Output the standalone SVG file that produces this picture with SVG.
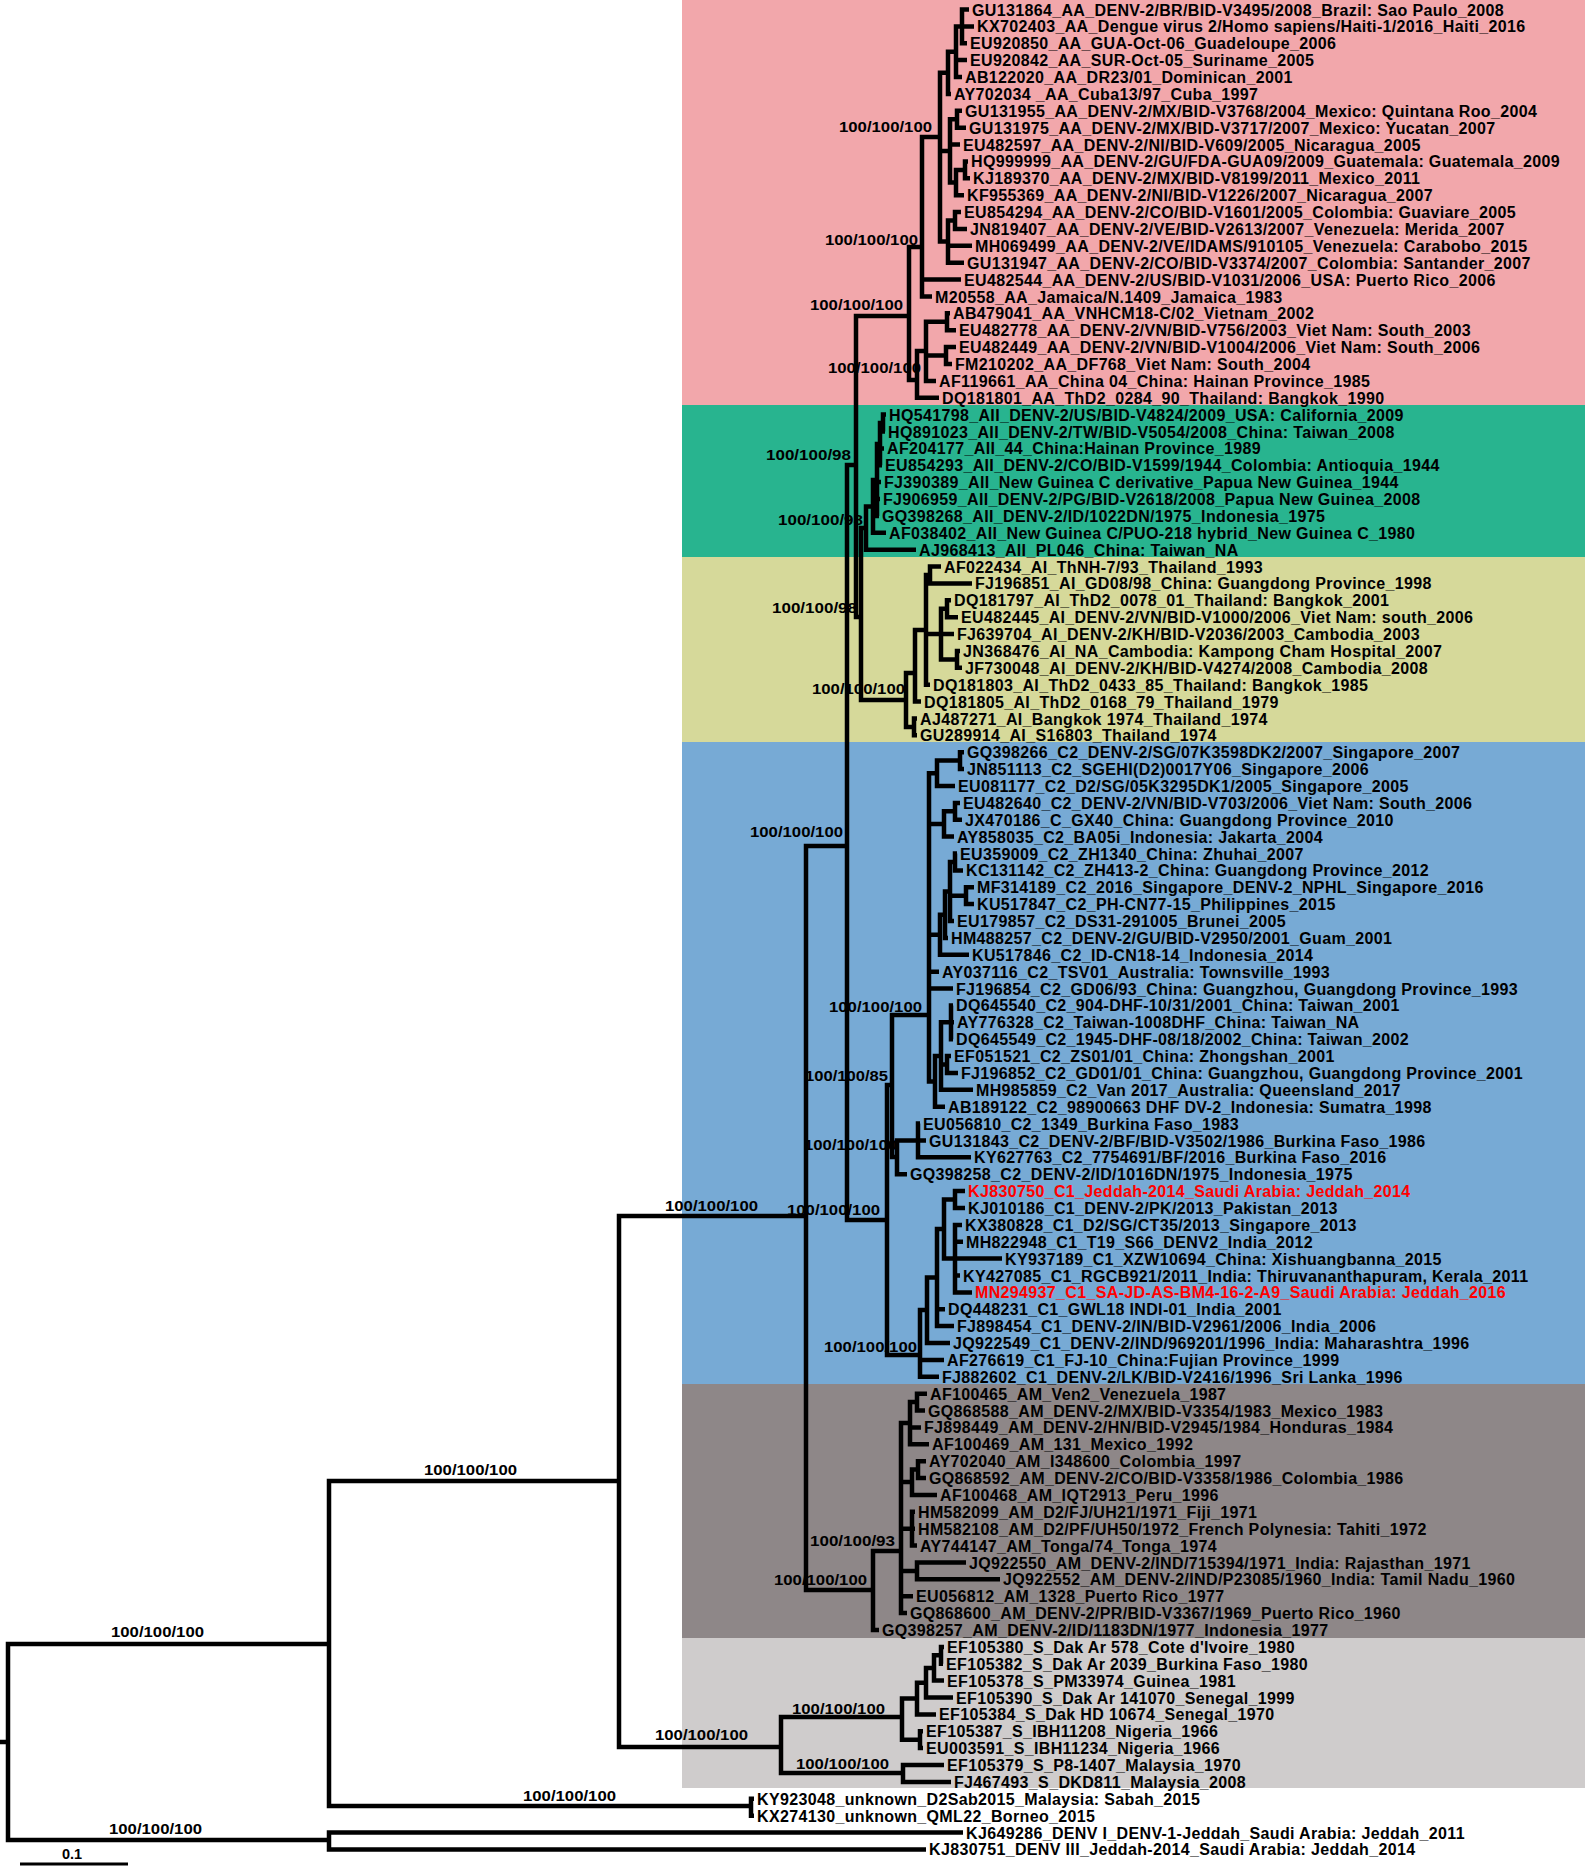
<svg xmlns="http://www.w3.org/2000/svg" width="1585" height="1867" viewBox="0 0 1585 1867">
<style>
.leaf{font-family:"Liberation Sans",Arial,sans-serif;font-weight:bold;font-size:16px;letter-spacing:0.35px;fill:#000}
.red{fill:#ff0000}
.bs{font-family:"Liberation Sans",Arial,sans-serif;font-weight:bold;font-size:14.5px;text-anchor:end;fill:#000}
.br{fill:none;stroke:#000;stroke-width:4.5;stroke-linejoin:miter;stroke-linecap:butt}
</style>
<rect width="1585" height="1867" fill="#fff"/>
<g id="bands">
<rect x="682" y="0" width="903" height="405" fill="#F2A7AB"/>
<rect x="682" y="405" width="903" height="152" fill="#28B48F"/>
<rect x="682" y="557" width="903" height="185" fill="#D6D99A"/>
<rect x="682" y="742" width="903" height="642" fill="#77AAD5"/>
<rect x="682" y="1384" width="903" height="254" fill="#8E8788"/>
<rect x="682" y="1638" width="903" height="150" fill="#CFCCCC"/>
</g>
<g id="support">
<text class="bs" x="932" y="132" textLength="93" lengthAdjust="spacingAndGlyphs">100/100/100</text>
<text class="bs" x="918" y="245" textLength="93" lengthAdjust="spacingAndGlyphs">100/100/100</text>
<text class="bs" x="903" y="310" textLength="93" lengthAdjust="spacingAndGlyphs">100/100/100</text>
<text class="bs" x="921" y="373" textLength="93" lengthAdjust="spacingAndGlyphs">100/100/100</text>
<text class="bs" x="851" y="460" textLength="85" lengthAdjust="spacingAndGlyphs">100/100/98</text>
<text class="bs" x="863" y="525" textLength="85" lengthAdjust="spacingAndGlyphs">100/100/98</text>
<text class="bs" x="857" y="613" textLength="85" lengthAdjust="spacingAndGlyphs">100/100/98</text>
<text class="bs" x="905" y="694" textLength="93" lengthAdjust="spacingAndGlyphs">100/100/100</text>
<text class="bs" x="843" y="837" textLength="93" lengthAdjust="spacingAndGlyphs">100/100/100</text>
<text class="bs" x="922" y="1012" textLength="93" lengthAdjust="spacingAndGlyphs">100/100/100</text>
<text class="bs" x="888" y="1081" textLength="83" lengthAdjust="spacingAndGlyphs">100/100/85</text>
<text class="bs" x="897" y="1150" textLength="93" lengthAdjust="spacingAndGlyphs">100/100/100</text>
<text class="bs" x="880" y="1215" textLength="93" lengthAdjust="spacingAndGlyphs">100/100/100</text>
<text class="bs" x="917" y="1352" textLength="93" lengthAdjust="spacingAndGlyphs">100/100/100</text>
<text class="bs" x="895" y="1546" textLength="85" lengthAdjust="spacingAndGlyphs">100/100/93</text>
<text class="bs" x="867" y="1585" textLength="93" lengthAdjust="spacingAndGlyphs">100/100/100</text>
<text class="bs" x="758" y="1211" textLength="93" lengthAdjust="spacingAndGlyphs">100/100/100</text>
<text class="bs" x="517" y="1475" textLength="93" lengthAdjust="spacingAndGlyphs">100/100/100</text>
<text class="bs" x="748" y="1740" textLength="93" lengthAdjust="spacingAndGlyphs">100/100/100</text>
<text class="bs" x="885" y="1714" textLength="93" lengthAdjust="spacingAndGlyphs">100/100/100</text>
<text class="bs" x="889" y="1769" textLength="93" lengthAdjust="spacingAndGlyphs">100/100/100</text>
<text class="bs" x="616" y="1801" textLength="93" lengthAdjust="spacingAndGlyphs">100/100/100</text>
<text class="bs" x="204" y="1637" textLength="93" lengthAdjust="spacingAndGlyphs">100/100/100</text>
<text class="bs" x="202" y="1834" textLength="93" lengthAdjust="spacingAndGlyphs">100/100/100</text>
</g>
<g id="connectors">
<path id="e-Na" class="br" d="M969,9.5 H962 V43.3 H967 M962,26.4 H974"/>
<path id="e-Nb" class="br" d="M962,26.4 H956 V77 H962 M956,60.1 H967"/>
<path id="e-Nc" class="br" d="M956,51.7 H948 V93.9 H951"/>
<path id="e-Nd" class="br" d="M962,110.8 H957 V127.7 H966"/>
<path id="e-Ne" class="br" d="M968,161.4 H965 V178.3 H970"/>
<path id="e-Nf" class="br" d="M965,169.9 H956 V195.2 H964"/>
<path id="e-Ng" class="br" d="M957,119.2 H950 V182.5 H956 M950,144.5 H960"/>
<path id="e-Nh" class="br" d="M961,212.1 H955 V228.9 H967"/>
<path id="e-Ni" class="br" d="M955,220.5 H948 V262.7 H964 M948,245.8 H972"/>
<path id="e-CAA" class="br" d="M948,72.8 H940 V241.6 H948 M940,150.9 H950"/>
<path id="e-Am" class="br" d="M940,137 H922 V296.5 H932 M922,279.6 H961"/>
<path id="e-Na1" class="br" d="M950,313.3 H947 V330.2 H956"/>
<path id="e-Na2" class="br" d="M956,347.1 H946 V364 H952"/>
<path id="e-Na3" class="br" d="M947,321.8 H926 V380.9 H936 M926,355.5 H946"/>
<path id="e-As" class="br" d="M926,351 H917 V397.7 H939"/>
<path id="e-P" class="br" d="M922,247 H909 V380 H917"/>
<path id="e-Q" class="br" d="M909,316 H856 V617 H861"/>
<path id="e-g1" class="br" d="M886,414.6 H883 V431.5 H885"/>
<path id="e-g2" class="br" d="M883,423 H880 V465.3 H882 M880,448.4 H884"/>
<path id="e-g3" class="br" d="M880,444 H877 V515.9 H879 M877,482.1 H881 M877,499 H880"/>
<path id="e-Gp" class="br" d="M877,480 H873 V532.8 H886"/>
<path id="e-G" class="br" d="M873,506.4 H866 V549.7 H916"/>
<path id="e-R" class="br" d="M866,528 H861 V700 H906"/>
<path id="e-ai1" class="br" d="M941,566.5 H930 V583.4 H972"/>
<path id="e-ai3" class="br" d="M951,600.3 H947 V617.2 H958"/>
<path id="e-ai5" class="br" d="M960,650.9 H957 V667.8 H962"/>
<path id="e-ai4" class="br" d="M947,608.8 H941 V659.4 H957 M941,634.1 H954"/>
<path id="e-ai2" class="br" d="M930,575 H926 V684.7 H930 M926,634.1 H941"/>
<path id="e-ai6" class="br" d="M926,630 H915 V701.6 H921"/>
<path id="e-ai7" class="br" d="M917,718.5 H914 V735.3 H917"/>
<path id="e-AI" class="br" d="M915,673 H906 V727 H914"/>
<path id="e-c1" class="br" d="M964,752.2 H960 V769.1 H964"/>
<path id="e-c2" class="br" d="M960,760.6 H937 V786 H955"/>
<path id="e-c3" class="br" d="M960,802.9 H955 V819.7 H962"/>
<path id="e-c4" class="br" d="M955,811.3 H944 V836.6 H954"/>
<path id="e-c6" class="br" d="M957,853.5 H955 V870.4 H963"/>
<path id="e-c7" class="br" d="M974,887.3 H966 V904.1 H974"/>
<path id="e-c8" class="br" d="M955,862 H950 V921 H954 M950,895.7 H966"/>
<path id="e-c9" class="br" d="M950,891.5 H945 V937.9 H948"/>
<path id="e-c10" class="br" d="M945,914.7 H940 V954.8 H969"/>
<path id="e-c12" class="br" d="M953,1005.4 H951 V1039.2 H953 M951,1022.3 H954"/>
<path id="e-c13" class="br" d="M951,1056.1 H947 V1072.9 H958"/>
<path id="e-c14" class="br" d="M951,1022.3 H941 V1089.8 H973 M941,1064.5 H947"/>
<path id="e-c15" class="br" d="M941,1056 H935 V1106.7 H945"/>
<path id="e-C2" class="br" d="M937,773.3 H929 V1081.4 H935 M929,823.9 H944 M929,934.8 H940 M929,971.7 H939 M929,988.5 H953"/>
<path id="e-c17" class="br" d="M920,1123.6 H918 V1157.3 H971 M918,1140.5 H926"/>
<path id="e-c18" class="br" d="M918,1140.5 H897 V1174.2 H907"/>
<path id="e-C2p" class="br" d="M929,1015 H892 V1157 H897"/>
<path id="e-k1" class="br" d="M965,1191.1 H955 V1208 H965"/>
<path id="e-k2" class="br" d="M962,1224.9 H955 V1292.4 H972 M955,1241.7 H963 M955,1258.6 H1002 M955,1275.5 H960"/>
<path id="e-k4" class="br" d="M955,1199.5 H944 V1258.6 H955"/>
<path id="e-k6" class="br" d="M944,1229 H937 V1326.1 H954 M937,1309.3 H945"/>
<path id="e-k5" class="br" d="M937,1277.5 H927 V1343 H950"/>
<path id="e-C1" class="br" d="M927,1310 H920 V1376.8 H939 M920,1359.9 H944"/>
<path id="e-C" class="br" d="M892,1085 H887 V1355 H920"/>
<path id="e-X" class="br" d="M856,465 H847 V1220 H887"/>
<path id="e-am1" class="br" d="M927,1393.7 H917 V1410.5 H925"/>
<path id="e-am2" class="br" d="M917,1402.1 H910 V1444.3 H929 M910,1427.4 H921"/>
<path id="e-am3" class="br" d="M926,1461.2 H918 V1478.1 H926"/>
<path id="e-am4" class="br" d="M918,1469.6 H912 V1494.9 H937"/>
<path id="e-am5" class="br" d="M915,1511.8 H912 V1545.6 H917 M912,1528.7 H915"/>
<path id="e-am6" class="br" d="M966,1562.5 H917 V1579.3 H1000"/>
<path id="e-AM2" class="br" d="M910,1423 H901 V1613.1 H907 M901,1482 H912 M901,1528.7 H912 M901,1571 H917 M901,1596.2 H913"/>
<path id="e-AM" class="br" d="M901,1551 H873 V1630 H879"/>
<path id="e-U" class="br" d="M847,846 H806 V1590 H873"/>
<path id="e-s1" class="br" d="M944,1646.9 H941 V1663.7 H943"/>
<path id="e-s2" class="br" d="M941,1655.3 H934 V1680.6 H944"/>
<path id="e-s3" class="br" d="M934,1668 H926 V1697.5 H953"/>
<path id="e-s4" class="br" d="M926,1682.7 H917 V1714.4 H936"/>
<path id="e-s5" class="br" d="M923,1731.3 H920 V1748.1 H923"/>
<path id="e-s6" class="br" d="M917,1698.5 H902 V1739.7 H920"/>
<path id="e-s7" class="br" d="M944,1765 H903 V1781.9 H951"/>
<path id="e-S" class="br" d="M902,1717 H781 V1773 H903"/>
<path id="e-N2" class="br" d="M806,1216 H619 V1747 H781"/>
<path id="e-KY" class="br" d="M754,1798.8 H751 V1815.7 H754"/>
<path id="e-N1" class="br" d="M619,1481 H329 V1806 H751"/>
<path id="e-Out" class="br" d="M963,1832.5 H329 V1849.4 H926"/>
<path id="e-Root" class="br" d="M329,1644 H8 V1840 H329 M0,1742 H8"/>
</g>
<g id="scale">
<path d="M20,1864 H128" stroke="#000" stroke-width="3"/>
<text x="72" y="1859" text-anchor="middle" font-family="Liberation Sans, Arial, sans-serif" font-weight="bold" font-size="14.5">0.1</text>
</g>
<g id="leaves">
<g id="L0"><text class="leaf" x="972" y="15.5">GU131864_AA_DENV-2/BR/BID-V3495/2008_Brazil: Sao Paulo_2008</text></g>
<g id="L1"><text class="leaf" x="977" y="32.4">KX702403_AA_Dengue virus 2/Homo sapiens/Haiti-1/2016_Haiti_2016</text></g>
<g id="L2"><text class="leaf" x="970" y="49.3">EU920850_AA_GUA-Oct-06_Guadeloupe_2006</text></g>
<g id="L3"><text class="leaf" x="970" y="66.1">EU920842_AA_SUR-Oct-05_Suriname_2005</text></g>
<g id="L4"><text class="leaf" x="965" y="83">AB122020_AA_DR23/01_Dominican_2001</text></g>
<g id="L5"><text class="leaf" x="954" y="99.9">AY702034 _AA_Cuba13/97_Cuba_1997</text></g>
<g id="L6"><text class="leaf" x="965" y="116.8">GU131955_AA_DENV-2/MX/BID-V3768/2004_Mexico: Quintana Roo_2004</text></g>
<g id="L7"><text class="leaf" x="969" y="133.7">GU131975_AA_DENV-2/MX/BID-V3717/2007_Mexico: Yucatan_2007</text></g>
<g id="L8"><text class="leaf" x="963" y="150.5">EU482597_AA_DENV-2/NI/BID-V609/2005_Nicaragua_2005</text></g>
<g id="L9"><text class="leaf" x="971" y="167.4">HQ999999_AA_DENV-2/GU/FDA-GUA09/2009_Guatemala: Guatemala_2009</text></g>
<g id="L10"><text class="leaf" x="973" y="184.3">KJ189370_AA_DENV-2/MX/BID-V8199/2011_Mexico_2011</text></g>
<g id="L11"><text class="leaf" x="967" y="201.2">KF955369_AA_DENV-2/NI/BID-V1226/2007_Nicaragua_2007</text></g>
<g id="L12"><text class="leaf" x="964" y="218.1">EU854294_AA_DENV-2/CO/BID-V1601/2005_Colombia: Guaviare_2005</text></g>
<g id="L13"><text class="leaf" x="970" y="234.9">JN819407_AA_DENV-2/VE/BID-V2613/2007_Venezuela: Merida_2007</text></g>
<g id="L14"><text class="leaf" x="975" y="251.8">MH069499_AA_DENV-2/VE/IDAMS/910105_Venezuela: Carabobo_2015</text></g>
<g id="L15"><text class="leaf" x="967" y="268.7">GU131947_AA_DENV-2/CO/BID-V3374/2007_Colombia: Santander_2007</text></g>
<g id="L16"><text class="leaf" x="964" y="285.6">EU482544_AA_DENV-2/US/BID-V1031/2006_USA: Puerto Rico_2006</text></g>
<g id="L17"><text class="leaf" x="935" y="302.5">M20558_AA_Jamaica/N.1409_Jamaica_1983</text></g>
<g id="L18"><text class="leaf" x="953" y="319.3">AB479041_AA_VNHCM18-C/02_Vietnam_2002</text></g>
<g id="L19"><text class="leaf" x="959" y="336.2">EU482778_AA_DENV-2/VN/BID-V756/2003_Viet Nam: South_2003</text></g>
<g id="L20"><text class="leaf" x="959" y="353.1">EU482449_AA_DENV-2/VN/BID-V1004/2006_Viet Nam: South_2006</text></g>
<g id="L21"><text class="leaf" x="955" y="370">FM210202_AA_DF768_Viet Nam: South_2004</text></g>
<g id="L22"><text class="leaf" x="939" y="386.9">AF119661_AA_China 04_China: Hainan Province_1985</text></g>
<g id="L23"><text class="leaf" x="942" y="403.7">DQ181801_AA_ThD2_0284_90_Thailand: Bangkok_1990</text></g>
<g id="L24"><text class="leaf" x="889" y="420.6">HQ541798_AII_DENV-2/US/BID-V4824/2009_USA: California_2009</text></g>
<g id="L25"><text class="leaf" x="888" y="437.5">HQ891023_AII_DENV-2/TW/BID-V5054/2008_China: Taiwan_2008</text></g>
<g id="L26"><text class="leaf" x="887" y="454.4">AF204177_AII_44_China:Hainan Province_1989</text></g>
<g id="L27"><text class="leaf" x="885" y="471.3">EU854293_AII_DENV-2/CO/BID-V1599/1944_Colombia: Antioquia_1944</text></g>
<g id="L28"><text class="leaf" x="884" y="488.1">FJ390389_AII_New Guinea C derivative_Papua New Guinea_1944</text></g>
<g id="L29"><text class="leaf" x="883" y="505">FJ906959_AII_DENV-2/PG/BID-V2618/2008_Papua New Guinea_2008</text></g>
<g id="L30"><text class="leaf" x="882" y="521.9">GQ398268_AII_DENV-2/ID/1022DN/1975_Indonesia_1975</text></g>
<g id="L31"><text class="leaf" x="889" y="538.8">AF038402_AII_New Guinea C/PUO-218 hybrid_New Guinea C_1980</text></g>
<g id="L32"><text class="leaf" x="919" y="555.7">AJ968413_AII_PL046_China: Taiwan_NA</text></g>
<g id="L33"><text class="leaf" x="944" y="572.5">AF022434_AI_ThNH-7/93_Thailand_1993</text></g>
<g id="L34"><text class="leaf" x="975" y="589.4">FJ196851_AI_GD08/98_China: Guangdong Province_1998</text></g>
<g id="L35"><text class="leaf" x="954" y="606.3">DQ181797_AI_ThD2_0078_01_Thailand: Bangkok_2001</text></g>
<g id="L36"><text class="leaf" x="961" y="623.2">EU482445_AI_DENV-2/VN/BID-V1000/2006_Viet Nam: south_2006</text></g>
<g id="L37"><text class="leaf" x="957" y="640.1">FJ639704_AI_DENV-2/KH/BID-V2036/2003_Cambodia_2003</text></g>
<g id="L38"><text class="leaf" x="963" y="656.9">JN368476_AI_NA_Cambodia: Kampong Cham Hospital_2007</text></g>
<g id="L39"><text class="leaf" x="965" y="673.8">JF730048_AI_DENV-2/KH/BID-V4274/2008_Cambodia_2008</text></g>
<g id="L40"><text class="leaf" x="933" y="690.7">DQ181803_AI_ThD2_0433_85_Thailand: Bangkok_1985</text></g>
<g id="L41"><text class="leaf" x="924" y="707.6">DQ181805_AI_ThD2_0168_79_Thailand_1979</text></g>
<g id="L42"><text class="leaf" x="920" y="724.5">AJ487271_AI_Bangkok 1974_Thailand_1974</text></g>
<g id="L43"><text class="leaf" x="920" y="741.3">GU289914_AI_S16803_Thailand_1974</text></g>
<g id="L44"><text class="leaf" x="967" y="758.2">GQ398266_C2_DENV-2/SG/07K3598DK2/2007_Singapore_2007</text></g>
<g id="L45"><text class="leaf" x="967" y="775.1">JN851113_C2_SGEHI(D2)0017Y06_Singapore_2006</text></g>
<g id="L46"><text class="leaf" x="958" y="792">EU081177_C2_D2/SG/05K3295DK1/2005_Singapore_2005</text></g>
<g id="L47"><text class="leaf" x="963" y="808.9">EU482640_C2_DENV-2/VN/BID-V703/2006_Viet Nam: South_2006</text></g>
<g id="L48"><text class="leaf" x="965" y="825.7">JX470186_C_GX40_China: Guangdong Province_2010</text></g>
<g id="L49"><text class="leaf" x="957" y="842.6">AY858035_C2_BA05i_Indonesia: Jakarta_2004</text></g>
<g id="L50"><text class="leaf" x="960" y="859.5">EU359009_C2_ZH1340_China: Zhuhai_2007</text></g>
<g id="L51"><text class="leaf" x="966" y="876.4">KC131142_C2_ZH413-2_China: Guangdong Province_2012</text></g>
<g id="L52"><text class="leaf" x="977" y="893.3">MF314189_C2_2016_Singapore_DENV-2_NPHL_Singapore_2016</text></g>
<g id="L53"><text class="leaf" x="977" y="910.1">KU517847_C2_PH-CN77-15_Philippines_2015</text></g>
<g id="L54"><text class="leaf" x="957" y="927">EU179857_C2_DS31-291005_Brunei_2005</text></g>
<g id="L55"><text class="leaf" x="951" y="943.9">HM488257_C2_DENV-2/GU/BID-V2950/2001_Guam_2001</text></g>
<g id="L56"><text class="leaf" x="972" y="960.8">KU517846_C2_ID-CN18-14_Indonesia_2014</text></g>
<g id="L57"><text class="leaf" x="942" y="977.7">AY037116_C2_TSV01_Australia: Townsville_1993</text></g>
<g id="L58"><text class="leaf" x="956" y="994.5">FJ196854_C2_GD06/93_China: Guangzhou, Guangdong Province_1993</text></g>
<g id="L59"><text class="leaf" x="956" y="1011.4">DQ645540_C2_904-DHF-10/31/2001_China: Taiwan_2001</text></g>
<g id="L60"><text class="leaf" x="957" y="1028.3">AY776328_C2_Taiwan-1008DHF_China: Taiwan_NA</text></g>
<g id="L61"><text class="leaf" x="956" y="1045.2">DQ645549_C2_1945-DHF-08/18/2002_China: Taiwan_2002</text></g>
<g id="L62"><text class="leaf" x="954" y="1062.1">EF051521_C2_ZS01/01_China: Zhongshan_2001</text></g>
<g id="L63"><text class="leaf" x="961" y="1078.9">FJ196852_C2_GD01/01_China: Guangzhou, Guangdong Province_2001</text></g>
<g id="L64"><text class="leaf" x="976" y="1095.8">MH985859_C2_Van 2017_Australia: Queensland_2017</text></g>
<g id="L65"><text class="leaf" x="948" y="1112.7">AB189122_C2_98900663 DHF DV-2_Indonesia: Sumatra_1998</text></g>
<g id="L66"><text class="leaf" x="923" y="1129.6">EU056810_C2_1349_Burkina Faso_1983</text></g>
<g id="L67"><text class="leaf" x="929" y="1146.5">GU131843_C2_DENV-2/BF/BID-V3502/1986_Burkina Faso_1986</text></g>
<g id="L68"><text class="leaf" x="974" y="1163.3">KY627763_C2_7754691/BF/2016_Burkina Faso_2016</text></g>
<g id="L69"><text class="leaf" x="910" y="1180.2">GQ398258_C2_DENV-2/ID/1016DN/1975_Indonesia_1975</text></g>
<g id="L70"><text class="leaf red" x="968" y="1197.1">KJ830750_C1_Jeddah-2014_Saudi Arabia: Jeddah_2014</text></g>
<g id="L71"><text class="leaf" x="968" y="1214">KJ010186_C1_DENV-2/PK/2013_Pakistan_2013</text></g>
<g id="L72"><text class="leaf" x="965" y="1230.9">KX380828_C1_D2/SG/CT35/2013_Singapore_2013</text></g>
<g id="L73"><text class="leaf" x="966" y="1247.7">MH822948_C1_T19_S66_DENV2_India_2012</text></g>
<g id="L74"><text class="leaf" x="1005" y="1264.6">KY937189_C1_XZW10694_China: Xishuangbanna_2015</text></g>
<g id="L75"><text class="leaf" x="963" y="1281.5">KY427085_C1_RGCB921/2011_India: Thiruvananthapuram, Kerala_2011</text></g>
<g id="L76"><text class="leaf red" x="975" y="1298.4">MN294937_C1_SA-JD-AS-BM4-16-2-A9_Saudi Arabia: Jeddah_2016</text></g>
<g id="L77"><text class="leaf" x="948" y="1315.3">DQ448231_C1_GWL18 INDI-01_India_2001</text></g>
<g id="L78"><text class="leaf" x="957" y="1332.1">FJ898454_C1_DENV-2/IN/BID-V2961/2006_India_2006</text></g>
<g id="L79"><text class="leaf" x="953" y="1349">JQ922549_C1_DENV-2/IND/969201/1996_India: Maharashtra_1996</text></g>
<g id="L80"><text class="leaf" x="947" y="1365.9">AF276619_C1_FJ-10_China:Fujian Province_1999</text></g>
<g id="L81"><text class="leaf" x="942" y="1382.8">FJ882602_C1_DENV-2/LK/BID-V2416/1996_Sri Lanka_1996</text></g>
<g id="L82"><text class="leaf" x="930" y="1399.7">AF100465_AM_Ven2_Venezuela_1987</text></g>
<g id="L83"><text class="leaf" x="928" y="1416.5">GQ868588_AM_DENV-2/MX/BID-V3354/1983_Mexico_1983</text></g>
<g id="L84"><text class="leaf" x="924" y="1433.4">FJ898449_AM_DENV-2/HN/BID-V2945/1984_Honduras_1984</text></g>
<g id="L85"><text class="leaf" x="932" y="1450.3">AF100469_AM_131_Mexico_1992</text></g>
<g id="L86"><text class="leaf" x="929" y="1467.2">AY702040_AM_I348600_Colombia_1997</text></g>
<g id="L87"><text class="leaf" x="929" y="1484.1">GQ868592_AM_DENV-2/CO/BID-V3358/1986_Colombia_1986</text></g>
<g id="L88"><text class="leaf" x="940" y="1500.9">AF100468_AM_IQT2913_Peru_1996</text></g>
<g id="L89"><text class="leaf" x="918" y="1517.8">HM582099_AM_D2/FJ/UH21/1971_Fiji_1971</text></g>
<g id="L90"><text class="leaf" x="918" y="1534.7">HM582108_AM_D2/PF/UH50/1972_French Polynesia: Tahiti_1972</text></g>
<g id="L91"><text class="leaf" x="920" y="1551.6">AY744147_AM_Tonga/74_Tonga_1974</text></g>
<g id="L92"><text class="leaf" x="969" y="1568.5">JQ922550_AM_DENV-2/IND/715394/1971_India: Rajasthan_1971</text></g>
<g id="L93"><text class="leaf" x="1003" y="1585.3">JQ922552_AM_DENV-2/IND/P23085/1960_India: Tamil Nadu_1960</text></g>
<g id="L94"><text class="leaf" x="916" y="1602.2">EU056812_AM_1328_Puerto Rico_1977</text></g>
<g id="L95"><text class="leaf" x="910" y="1619.1">GQ868600_AM_DENV-2/PR/BID-V3367/1969_Puerto Rico_1960</text></g>
<g id="L96"><text class="leaf" x="882" y="1636">GQ398257_AM_DENV-2/ID/1183DN/1977_Indonesia_1977</text></g>
<g id="L97"><text class="leaf" x="947" y="1652.9">EF105380_S_Dak Ar 578_Cote d'Ivoire_1980</text></g>
<g id="L98"><text class="leaf" x="946" y="1669.7">EF105382_S_Dak Ar 2039_Burkina Faso_1980</text></g>
<g id="L99"><text class="leaf" x="947" y="1686.6">EF105378_S_PM33974_Guinea_1981</text></g>
<g id="L100"><text class="leaf" x="956" y="1703.5">EF105390_S_Dak Ar 141070_Senegal_1999</text></g>
<g id="L101"><text class="leaf" x="939" y="1720.4">EF105384_S_Dak HD 10674_Senegal_1970</text></g>
<g id="L102"><text class="leaf" x="926" y="1737.3">EF105387_S_IBH11208_Nigeria_1966</text></g>
<g id="L103"><text class="leaf" x="926" y="1754.1">EU003591_S_IBH11234_Nigeria_1966</text></g>
<g id="L104"><text class="leaf" x="947" y="1771">EF105379_S_P8-1407_Malaysia_1970</text></g>
<g id="L105"><text class="leaf" x="954" y="1787.9">FJ467493_S_DKD811_Malaysia_2008</text></g>
<g id="L106"><text class="leaf" x="757" y="1804.8">KY923048_unknown_D2Sab2015_Malaysia: Sabah_2015</text></g>
<g id="L107"><text class="leaf" x="757" y="1821.7">KX274130_unknown_QML22_Borneo_2015</text></g>
<g id="L108"><text class="leaf" x="966" y="1838.5">KJ649286_DENV I_DENV-1-Jeddah_Saudi Arabia: Jeddah_2011</text></g>
<g id="L109"><text class="leaf" x="929" y="1855.4">KJ830751_DENV III_Jeddah-2014_Saudi Arabia: Jeddah_2014</text></g>
</g>
</svg>
